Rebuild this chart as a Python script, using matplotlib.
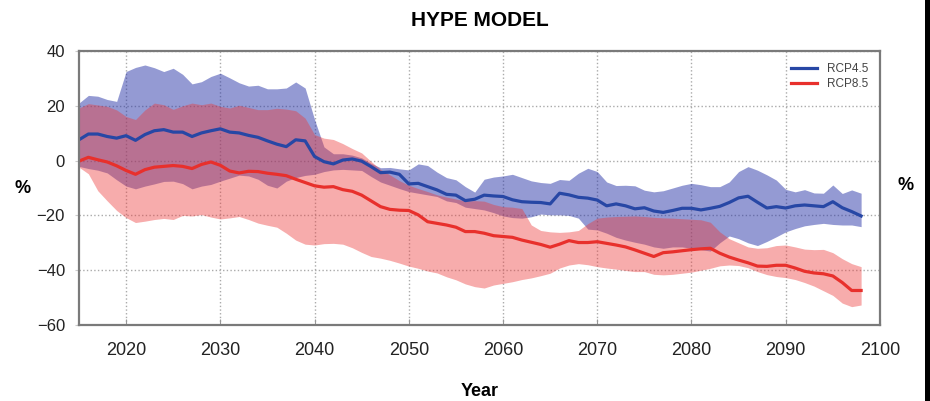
import matplotlib
matplotlib.use("Agg")
import matplotlib.pyplot as plt
from matplotlib.patches import Rectangle

plt.rcParams['font.family'] = ['Liberation Sans Narrow', 'Liberation Sans', 'DejaVu Sans']

years = list(range(2015, 2099))

rcp45_mean = [7.6, 9.7, 9.7, 8.8, 8.2, 9.1, 7.4, 9.5, 10.9, 11.3,
              10.4, 10.4, 8.8, 10.1, 10.9, 11.6, 10.4, 10.1, 9.2, 8.5,
              7.2, 6.0, 5.1, 7.6, 7.2, 1.5, -0.4, -1.2, 0.2, 0.6,
              -0.2, -2.2, -4.4, -4.2, -5.0, -8.5, -8.3, -9.5, -10.7, -12.3,
              -12.6, -14.6, -14.1, -12.6, -12.9, -13.1, -14.3, -15.0, -15.2, -15.3,
              -15.8, -11.9, -12.5, -13.4, -13.7, -14.4, -16.5, -15.8, -16.5, -17.6,
              -17.2, -18.4, -18.9, -18.2, -17.4, -17.4, -18.0, -17.4, -16.7, -15.3,
              -13.6, -13.0, -15.2, -17.3, -16.8, -17.3, -16.5, -16.2, -16.5, -16.8,
              -15.0, -17.2, -18.6, -20.2]
rcp45_max = [21.0, 23.8, 23.5, 22.3, 21.6, 32.5, 34.0, 34.9, 33.9, 32.5,
             33.7, 31.5, 28.0, 28.8, 30.7, 31.9, 30.2, 28.4, 27.2, 27.5,
             26.2, 26.2, 26.5, 28.7, 26.5, 15.0, 5.0, 2.5, 2.5, 2.0,
             1.0, -1.0, -2.6, -2.5, -3.0, -3.4, -1.2, -1.8, -4.2, -6.2,
             -7.0, -9.5, -11.5, -6.8, -6.0, -5.6, -5.0, -6.2, -7.4, -8.0,
             -8.3, -6.9, -7.2, -4.6, -2.8, -4.0, -7.8, -9.1, -9.0, -9.2,
             -10.8, -11.4, -11.0, -10.0, -9.0, -8.3, -8.8, -9.5, -9.5, -7.8,
             -4.0, -2.2, -3.5, -5.2, -7.1, -10.5, -11.4, -10.6, -11.8, -11.9,
             -8.9, -12.0, -10.7, -11.9]
rcp45_min = [-2.1, -2.9, -3.5, -4.5, -7.0, -9.3, -10.3, -9.3, -8.5, -7.6,
             -7.5, -8.4, -10.3, -9.3, -8.7, -7.5, -6.4, -5.3, -5.6, -6.8,
             -9.0, -10.0, -7.5, -6.2, -5.4, -5.0, -4.0, -3.4, -3.2, -3.4,
             -3.6, -5.8, -7.8, -9.0, -10.2, -11.3, -11.9, -12.5, -13.1, -14.7,
             -15.3, -17.0, -17.5, -18.0, -19.0, -20.2, -20.8, -21.0, -20.5, -19.5,
             -19.8, -19.8, -20.0, -21.0, -25.0, -25.3, -26.5, -28.0, -29.0, -29.8,
             -30.5, -31.5, -32.0, -31.5, -31.5, -32.0, -32.5, -33.0, -30.0, -27.5,
             -28.5, -30.0, -31.0, -29.5, -27.8, -26.0, -24.8, -23.8, -23.3, -22.9,
             -23.3, -23.5, -23.5, -24.1]

rcp85_mean = [-0.2, 1.2, 0.3, -0.5, -1.9, -3.6, -5.0, -3.3, -2.4, -2.1,
              -1.8, -2.1, -2.9, -1.4, -0.5, -1.7, -3.8, -4.5, -3.9, -4.0,
              -4.6, -5.0, -5.5, -6.8, -8.0, -9.2, -9.7, -9.5, -10.6, -11.2,
              -12.6, -14.7, -16.8, -17.8, -18.1, -18.2, -19.8, -22.3, -22.9, -23.5,
              -24.3, -25.9, -25.9, -26.5, -27.4, -27.7, -28.0, -29.0, -29.8, -30.6,
              -31.6, -30.5, -29.2, -29.9, -29.9, -29.6, -30.2, -30.8, -31.5, -32.6,
              -33.8, -35.0, -33.6, -33.3, -32.9, -32.5, -32.2, -32.0, -33.8, -35.2,
              -36.3, -37.3, -38.5, -38.6, -38.2, -38.2, -39.2, -40.4, -41.0, -41.3,
              -42.1, -44.5, -47.4, -47.4]
rcp85_max = [19.2, 20.8, 20.3, 19.8, 18.5, 16.1, 15.0, 18.5, 21.0, 20.4,
             18.7, 20.0, 21.0, 20.4, 21.0, 19.8, 19.2, 20.2, 19.4, 18.6,
             18.6, 19.1, 18.8, 18.2, 15.5, 9.5, 8.2, 7.7, 6.2, 4.4,
             2.8, -0.3, -3.2, -5.2, -7.3, -9.0, -10.2, -11.3, -12.5, -13.3,
             -14.0, -14.7, -14.6, -14.8, -16.0, -16.8, -17.0, -17.5, -23.5, -25.5,
             -26.0, -26.2, -26.0, -25.5, -23.0, -21.0, -20.6, -20.4, -20.3, -20.2,
             -20.4, -20.7, -20.9, -21.0, -21.2, -21.4, -21.6, -22.5, -26.0, -28.5,
             -30.0, -31.5, -32.0, -31.8, -31.0, -30.8, -31.5, -32.3, -32.5, -32.4,
             -33.6, -35.8, -37.6, -38.7]
rcp85_min = [-2.4, -4.8, -11.0, -14.7, -18.2, -20.8, -22.6, -22.1, -21.5, -21.1,
             -21.5, -20.0, -20.2, -19.7, -20.6, -21.3, -20.9, -20.4, -21.5, -22.8,
             -23.6, -24.3, -26.5, -29.0, -30.5, -30.8, -30.3, -30.2, -30.5, -31.8,
             -33.5, -35.0, -35.6, -36.4, -37.4, -38.5, -39.3, -40.3, -41.0, -42.4,
             -43.5, -45.0, -46.0, -46.5, -45.4, -44.8, -44.2, -43.4, -42.8, -42.0,
             -41.1, -39.2, -38.1, -37.6, -38.0, -38.7, -39.2, -39.6, -40.1, -40.5,
             -40.5, -41.5, -41.7, -41.5, -41.1, -40.7, -40.0, -39.3, -38.4, -38.1,
             -38.3, -39.1, -40.5, -41.6, -42.3, -42.7, -43.4, -44.5, -45.8, -47.5,
             -49.2, -52.0, -53.3, -52.7]

x_ticks = [2020, 2030, 2040, 2050, 2060, 2070, 2080, 2090, 2100]
y_ticks = [-60, -40, -20, 0, 20, 40]

fig = plt.figure(figsize=(9.30, 4.01), dpi=100)
ax = fig.add_axes([0.0849, 0.1895, 0.8613, 0.6833])

ax.fill_between(years, rcp45_min, rcp45_max, color='#2a36a8', alpha=0.5, lw=0)
ax.fill_between(years, rcp85_min, rcp85_max, color='#ec3a3a', alpha=0.42, lw=0)
ax.plot(years, rcp45_mean, color='#2747a5', lw=2.3, label='RCP4.5')
ax.plot(years, rcp85_mean, color='#e8302c', lw=2.3, label='RCP8.5')

ax.set_xlim(2015, 2100)
ax.set_ylim(-60, 40)
ax.set_xticks(x_ticks)
ax.set_yticks(y_ticks)
ax.grid(True, linestyle=':', color='#aaaaaa', lw=1.0)
ax.set_axisbelow(True)
for s in ax.spines.values():
    s.set_color('#7a7a7a')
    s.set_linewidth(1.6)
ax.tick_params(axis='x', direction='in', length=4, color='#999999',
               labelsize=13, pad=12, labelcolor='#222222')
ax.tick_params(axis='y', direction='out', length=3, color='#cccccc',
               labelsize=12, pad=7, labelcolor='#222222')

ax.set_title('HYPE MODEL', fontsize=15, fontweight='bold', pad=18)
ax.set_xlabel('Year', fontsize=13, fontweight='bold', labelpad=17.5)
fig.text(0.024, 0.53, '%', fontsize=13, fontweight='bold', ha='center', va='center')
fig.text(0.974, 0.538, '%', fontsize=13, fontweight='bold', ha='center', va='center')

leg = ax.legend(loc='upper right', frameon=False, fontsize=8.5, handlelength=2.2,
                labelspacing=0.3, borderaxespad=0.6)
for t in leg.get_texts():
    t.set_color('#444444')

# dark strip along the right edge
fig.add_artist(Rectangle((0.9946, 0), 0.0054, 1, transform=fig.transFigure,
                         color='black', lw=0))

fig.savefig('out.png', dpi=100)
